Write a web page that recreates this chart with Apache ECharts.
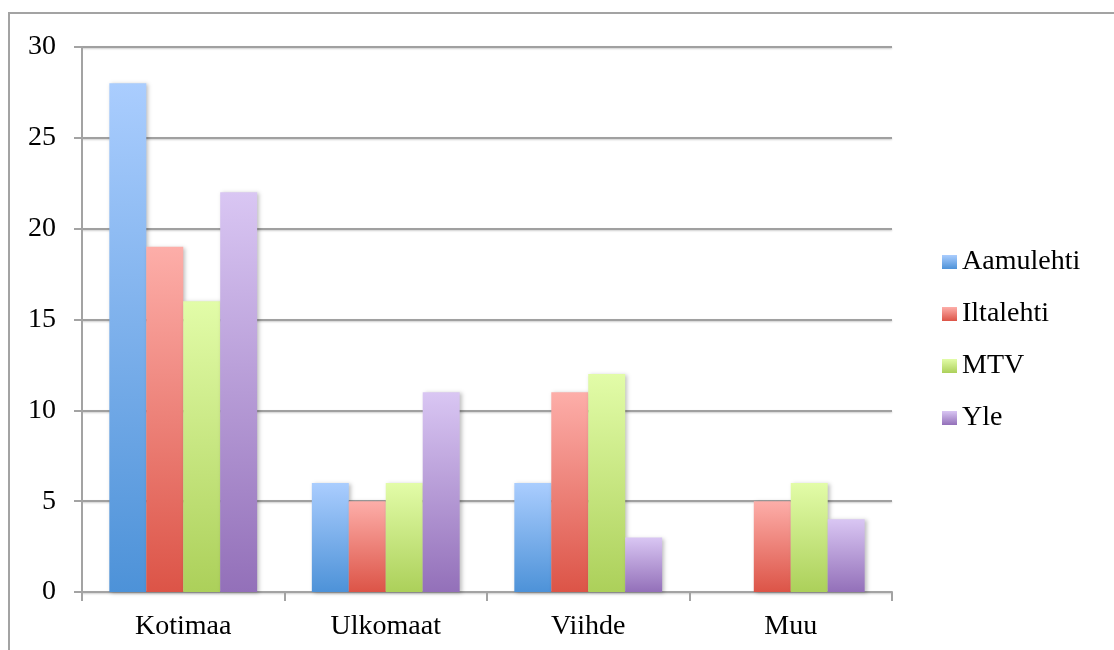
<!DOCTYPE html>
<html>
<head>
<meta charset="utf-8">
<script src="https://cdn.jsdelivr.net/npm/echarts@6/dist/echarts.min.js"></script>
<style>
  html, body { margin: 0; padding: 0; background: #fff; }
  #chart { width: 1114px; height: 650px; }
</style>
</head>
<body>
<div id="chart"></div>
<script>
    // luokat ja sarjat
    let categories = ['Kotimaa', 'Ulkomaat', 'Viihde', 'Muu'];
    let seriesNames = ['Aamulehti', 'Iltalehti', 'MTV', 'Yle'];
    let aamulehti = [28, 6, 6, 0];
    let iltalehti = [19, 5, 11, 5];
    let mtv = [16, 6, 12, 6];
    let yle = [22, 11, 3, 4];

    let seriesValues = [aamulehti, iltalehti, mtv, yle];

    // värit ylhäältä alas
    let gradients = [
        ['#aacdfe', '#4d92d8'],
        ['#fdaea9', '#dc5447'],
        ['#e2fca8', '#acd05a'],
        ['#d9c6f3', '#9370b9']
    ];

    let fontFamily = '"Liberation Serif", "DejaVu Serif", serif';

    let myChart = echarts.init(document.getElementById('chart'));

    let seriesArray = [];
    for (let i = 0; i < seriesNames.length; i++) {
        seriesArray.push({
            name: seriesNames[i],
            type: 'bar',
            barGap: '0%',
            barCategoryGap: '27%',
            data: seriesValues[i],
            itemStyle: {
                color: new echarts.graphic.LinearGradient(0, 0, 0, 1, [
                    {offset: 0, color: gradients[i][0]},
                    {offset: 1, color: gradients[i][1]}
                ]),
                shadowBlur: 4,
                shadowOffsetX: 2,
                shadowOffsetY: 1,
                shadowColor: 'rgba(0,0,0,0.25)'
            }
        });
    }

    let option = {
        animation: false,
        graphic: [{
            type: 'rect',
            shape: {x: 9, y: 13, width: 1300, height: 1000},
            style: {fill: 'none', stroke: '#a3a3a3', lineWidth: 2},
            silent: true
        }],
        grid: {
            left: 82,
            top: 47,
            right: 222,
            bottom: 58
        },
        legend: {
            orient: 'vertical',
            left: 937,
            top: 243,
            itemWidth: 15,
            itemHeight: 14,
            itemGap: 24,
            icon: 'rect',
            data: seriesNames,
            textStyle: {
                fontFamily: fontFamily,
                fontSize: 28,
                lineHeight: 28,
                color: '#000'
            }
        },
        xAxis: {
            type: 'category',
            data: categories,
            axisLine: {lineStyle: {color: '#a3a3a3', width: 2}},
            axisTick: {show: true, length: 9, lineStyle: {color: '#a3a3a3', width: 2}},
            axisLabel: {
                fontFamily: fontFamily,
                fontSize: 28,
                color: '#000',
                margin: 21
            }
        },
        yAxis: {
            type: 'value',
            min: 0,
            max: 30,
            interval: 5,
            axisLine: {show: true, lineStyle: {color: '#a3a3a3', width: 2}},
            axisTick: {show: true, length: 8, lineStyle: {color: '#a3a3a3', width: 2}},
            splitLine: {
                lineStyle: {
                    color: '#a0a0a0',
                    width: 2,
                    shadowBlur: 2,
                    shadowOffsetY: 1,
                    shadowColor: 'rgba(0,0,0,0.2)'
                }
            },
            axisLabel: {
                fontFamily: fontFamily,
                fontSize: 28,
                color: '#000',
                margin: 26
            }
        },
        series: seriesArray
    };

    myChart.setOption(option);
</script>
</body>
</html>
